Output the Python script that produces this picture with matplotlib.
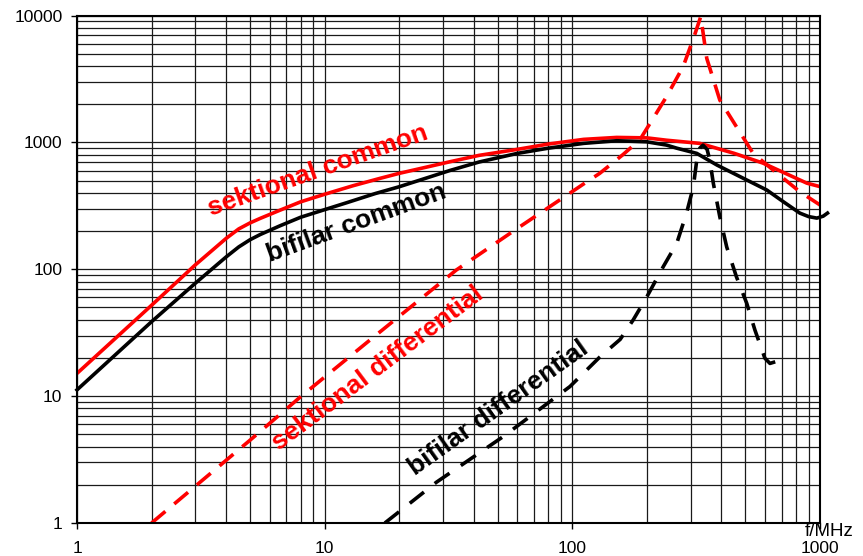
import matplotlib
matplotlib.use("Agg")
import matplotlib.pyplot as plt
from matplotlib.ticker import LogLocator, FixedLocator, FixedFormatter, NullFormatter

plt.rcParams['font.family'] = ['Liberation Sans', 'DejaVu Sans']

# ---- data ----
sc_f = [1, 2, 3, 4, 4.5, 5, 5.5, 6.6, 8, 10, 13, 16.7, 20, 32, 42, 60, 80, 111, 151, 200, 240, 327, 450, 588, 750, 885, 1000]
sc_v = [15.1, 52, 108, 175, 208, 232, 252, 292, 340, 390, 455, 520, 570, 703, 790, 881, 970, 1056, 1094, 1085, 1040, 982, 820, 687, 553, 477, 448]

bc_f = [1, 2, 3, 4, 4.5, 5, 5.5, 6.6, 8, 10, 12.3, 16, 20, 32, 42, 60, 80, 111, 151, 200, 240, 264, 318, 384, 480, 610, 700, 829, 900, 971, 1030, 1072]
bc_v = [11.2, 38.6, 77.4, 125, 150, 171, 188, 220, 257, 295, 335, 395, 447, 600, 700, 819, 900, 982, 1030, 1010, 952, 900, 819, 662, 532, 421, 348, 277, 260, 253, 262, 277]

sd_f = [2.0, 5.0, 8.0, 15, 34, 60, 111, 129, 160, 187, 210, 240, 280, 310, 330, 349, 394, 460, 537, 647, 829, 1000]
sd_v = [1.0, 4.5, 9.9, 27, 98.6, 210, 470, 570, 800, 1043, 1500, 2291, 3945, 6800, 9800, 4590, 2154, 1327, 819, 605, 408, 321]

bd_f = [17.5, 28.3, 52.6, 97.8, 129, 156, 176, 200, 233, 264, 289, 308, 318, 327, 337, 350, 359, 371, 394, 420, 460, 506, 546, 599, 628, 710]
bd_v = [1.0, 2.1, 4.8, 11.9, 20.3, 28, 39.8, 60.7, 105, 160, 276, 447, 725, 900, 950, 880, 725, 475, 259, 150, 87, 53.9, 33.2, 19.9, 18.1, 19.5]

x_ticks = [1, 10, 100, 1000]
x_labels = ['1', '10', '100', '1000']
y_ticks = [1, 10, 100, 1000, 10000]
y_labels = ['1', '10', '100', '1000', '10000']

labels = ['sektional common', 'bifilar common', 'sektional differential', 'bifilar differential']

# ---- figure ----
fig = plt.figure(figsize=(8.63, 5.56), dpi=100)
ax = fig.add_axes([77/863, 1-523/556, 743/863, 507.5/556])
ax.set_xscale('log')
ax.set_yscale('log')
ax.set_xlim(1, 1000)
ax.set_ylim(1, 10000)

ax.xaxis.set_major_locator(FixedLocator(x_ticks))
ax.xaxis.set_major_formatter(FixedFormatter(x_labels))
ax.yaxis.set_major_locator(FixedLocator(y_ticks))
ax.yaxis.set_major_formatter(FixedFormatter(y_labels))
ax.xaxis.set_minor_locator(LogLocator(base=10, subs=range(2, 10), numticks=20))
ax.yaxis.set_minor_locator(LogLocator(base=10, subs=range(2, 10), numticks=20))
ax.xaxis.set_minor_formatter(NullFormatter())
ax.yaxis.set_minor_formatter(NullFormatter())
ax.tick_params(which='minor', length=0)
ax.tick_params(which='major', length=4.5, width=1, direction='out', labelsize=12.5, color='black')
ax.tick_params(axis='x', which='major', pad=8.5)
ax.tick_params(axis='y', which='major', pad=6)

ax.grid(which='both', color='#1a1a1a', linewidth=0.9)
ax.set_axisbelow(True)
for s in ax.spines.values():
    s.set_linewidth(1.5)
    s.set_color('black')

lw = 2.6
ax.plot(sc_f, sc_v, color='#ff0000', lw=lw, solid_capstyle='butt')
ax.plot(bc_f, bc_v, color='black', lw=lw, clip_on=False)
ax.plot(sd_f, sd_v, color='#ff0000', lw=lw, dashes=(5, 3.2))
ax.plot(bd_f, bd_v, color='black', lw=lw, dashes=(5, 3.8))

fs = 19
ax.text(0.324, 0.694, labels[0], transform=ax.transAxes, color='#ff0000', fontsize=fs,
        fontweight='bold', rotation=19.5, ha='center', va='center', rotation_mode='anchor')
ax.text(0.3755, 0.591, labels[1], transform=ax.transAxes, color='black', fontsize=fs,
        fontweight='bold', rotation=20, ha='center', va='center', rotation_mode='anchor')
ax.text(0.405, 0.305, labels[2], transform=ax.transAxes, color='#ff0000', fontsize=fs,
        fontweight='bold', rotation=36.8, ha='center', va='center', rotation_mode='anchor')
ax.text(0.567, 0.2266, labels[3], transform=ax.transAxes, color='black', fontsize=fs,
        fontweight='bold', rotation=35.4, ha='center', va='center', rotation_mode='anchor')

fig.text(805/863, 1-532/556, 'f/MHz', fontsize=13.5, ha='left', va='center')

fig.savefig('out.png', dpi=100, facecolor='white')
